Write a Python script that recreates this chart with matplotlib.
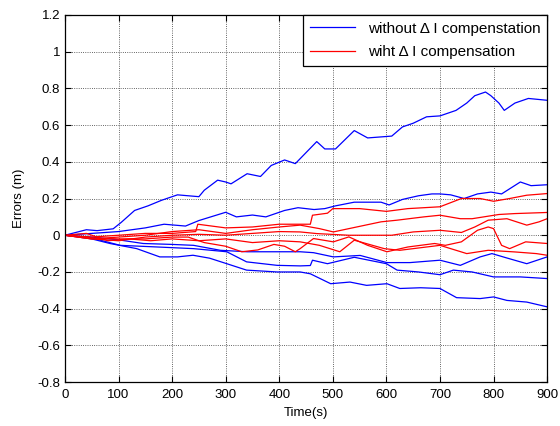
import matplotlib
matplotlib.use("Agg")
import matplotlib.pyplot as plt

plt.rcParams["font.family"] = ["Liberation Sans", "DejaVu Sans"]
plt.rcParams["font.size"] = 9.5

# error traces, (time s, error m)
B1_T = [0, 40, 60, 90, 105, 130, 155, 180, 210, 250, 260, 285, 300, 310, 340, 365, 385, 410, 430,
        460, 470, 485, 505, 540, 565, 610, 630, 650, 675, 700, 730, 750, 765, 785, 795, 810, 820, 840, 865, 900]
B1_V = [0, 0.03, 0.025, 0.035, 0.07, 0.135, 0.16, 0.19, 0.22, 0.21, 0.245, 0.30, 0.29, 0.28, 0.335, 0.32,
        0.38, 0.41, 0.39, 0.48, 0.51, 0.47, 0.47, 0.57, 0.53, 0.54, 0.59, 0.61, 0.645, 0.65, 0.68, 0.72,
        0.76, 0.78, 0.76, 0.72, 0.68, 0.72, 0.745, 0.735]

B2_T = [0, 50, 100, 150, 185, 225, 250, 300, 320, 350, 375, 410, 435, 465, 485, 505, 540, 590, 605,
        630, 660, 685, 700, 720, 745, 770, 795, 815, 850, 870, 900]
B2_V = [0, 0.01, 0.02, 0.04, 0.06, 0.05, 0.08, 0.125, 0.10, 0.11, 0.10, 0.135, 0.15, 0.14, 0.145, 0.16,
        0.18, 0.18, 0.165, 0.195, 0.215, 0.225, 0.225, 0.22, 0.2, 0.225, 0.235, 0.225, 0.29, 0.27, 0.275]

B3_T = [0, 50, 100, 146, 200, 240, 290, 340, 400, 439, 464, 501, 551, 601, 644, 700, 738, 775, 797,
        825, 862, 900]
B3_V = [0, -0.01, -0.025, -0.045, -0.05, -0.055, -0.082, -0.09, -0.09, -0.09, -0.095, -0.118, -0.11,
        -0.149, -0.149, -0.136, -0.164, -0.118, -0.10, -0.124, -0.155, -0.118]

B4_T = [0, 50, 103, 180, 240, 302, 339, 396, 439, 458, 462, 490, 540, 600, 620, 660, 700, 725, 760,
        800, 850, 900]
B4_V = [0, -0.015, -0.055, -0.065, -0.073, -0.09, -0.145, -0.164, -0.167, -0.165, -0.136, -0.155,
        -0.12, -0.155, -0.19, -0.2, -0.215, -0.19, -0.2, -0.227, -0.227, -0.236]

B5_T = [0, 50, 84, 134, 177, 210, 239, 270, 302, 339, 396, 439, 458, 496, 532, 563, 601, 625, 664,
        700, 731, 775, 800, 825, 862, 900]
B5_V = [0, -0.02, -0.045, -0.073, -0.118, -0.118, -0.109, -0.125, -0.155, -0.19, -0.2, -0.2, -0.21,
        -0.264, -0.255, -0.273, -0.264, -0.29, -0.286, -0.29, -0.34, -0.345, -0.336, -0.355, -0.364, -0.39]

R1_T = [0, 50, 100, 150, 200, 244, 248, 300, 350, 400, 458, 462, 490, 500, 550, 600, 640, 700, 740,
        775, 800, 830, 862, 900]
R1_V = [0, -0.01, 0.0, 0.01, 0.01, 0.02, 0.06, 0.04, 0.045, 0.06, 0.06, 0.109, 0.12, 0.145, 0.145,
        0.13, 0.145, 0.155, 0.2, 0.2, 0.185, 0.2, 0.218, 0.227]

R2_T = [0, 50, 100, 150, 200, 250, 300, 350, 400, 439, 475, 501, 530, 590, 620, 670, 700, 738, 760,
        810, 840, 900]
R2_V = [0, -0.02, -0.01, 0.0, 0.02, 0.03, 0.01, 0.03, 0.045, 0.055, 0.036, 0.018, 0.036, 0.073,
        0.082, 0.1, 0.109, 0.09, 0.09, 0.113, 0.118, 0.124]

R3_T = [0, 50, 100, 150, 200, 250, 300, 350, 400, 439, 470, 530, 610, 650, 700, 740, 765, 790, 825,
        862, 885, 900]
R3_V = [0, -0.02, -0.03, -0.01, 0.0, 0.005, 0.0, 0.01, 0.02, 0.018, 0.009, 0.0, 0.0, 0.018, 0.027,
        0.015, 0.045, 0.082, 0.09, 0.055, 0.073, 0.09]

R4_T = [0, 50, 100, 150, 200, 230, 260, 300, 330, 360, 390, 410, 430, 439, 464, 501, 530, 565, 601,
        640, 690, 710, 740, 770, 790, 800, 815, 830, 860, 900]
R4_V = [0, -0.015, -0.02, -0.02, -0.01, -0.01, -0.04, -0.06, -0.09, -0.08, -0.05, -0.06, -0.09, -0.073,
        -0.018, -0.036, -0.009, -0.055, -0.09, -0.064, -0.045, -0.055, -0.036, 0.027, 0.045, 0.036,
        -0.055, -0.073, -0.036, -0.045]

R5_T = [0, 40, 80, 120, 160, 200, 250, 300, 350, 400, 439, 475, 513, 540, 596, 625, 700, 750, 790,
        840, 880, 900]
R5_V = [0, 0.01, -0.03, -0.02, -0.03, -0.02, -0.03, -0.02, -0.04, -0.03, -0.036, -0.055, -0.09,
        -0.027, -0.073, -0.082, -0.055, -0.1, -0.082, -0.091, -0.1, -0.109]

BLUE = [(B1_T, B1_V), (B2_T, B2_V), (B3_T, B3_V), (B4_T, B4_V), (B5_T, B5_V)]
RED = [(R1_T, R1_V), (R2_T, R2_V), (R3_T, R3_V), (R4_T, R4_V), (R5_T, R5_V)]

fig = plt.figure(figsize=(5.6, 4.26), dpi=100)
ax = fig.add_axes([0.116, 0.103, 0.861, 0.862])

for i, (t, v) in enumerate(BLUE):
    ax.plot(t, v, color="#0000ff", lw=0.9,
            label="without \u0394 I compenstation" if i == 0 else None)
for i, (t, v) in enumerate(RED):
    ax.plot(t, v, color="#ff0000", lw=0.9,
            label="wiht \u0394 I compensation" if i == 0 else None)

ax.set_xlim(0, 900)
ax.set_ylim(-0.8, 1.2)
ax.set_xticks(range(0, 901, 100))
ax.set_yticks([-0.8, -0.6, -0.4, -0.2, 0, 0.2, 0.4, 0.6, 0.8, 1, 1.2])
ax.set_yticklabels(["-0.8", "-0.6", "-0.4", "-0.2", "0", "0.2", "0.4", "0.6", "0.8", "1", "1.2"])
ax.grid(True, color="#333333", linestyle=":", linewidth=0.6)
ax.tick_params(direction="in", top=True, right=True, length=4, width=0.8)
ax.tick_params(axis="x", pad=5)
for s in ax.spines.values():
    s.set_linewidth(0.9)
ax.set_xlabel("Time(s)", labelpad=4)
ax.set_ylabel("Errors (m)", labelpad=9)

leg = ax.legend(loc="upper right", borderaxespad=0, fancybox=False, framealpha=1,
                edgecolor="black", handlelength=3.0, fontsize=11, labelspacing=0.6,
                borderpad=0.45)
leg.get_frame().set_linewidth(0.9)

fig.savefig("out.png", dpi=100)
